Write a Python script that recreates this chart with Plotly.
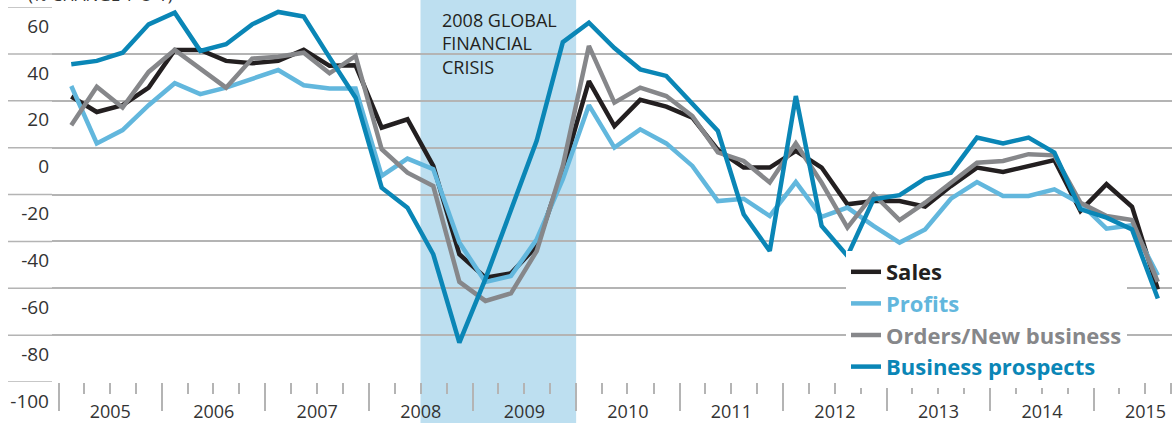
import plotly.graph_objects as go

quarters = [f"{y}-{m}" for y in range(2005, 2016) for m in ("02-15", "05-16", "08-15", "11-15")][:43]

sales = [21.8, 15.2, 18.1, 25.6, 41.7, 41.7, 37.0, 36.0, 37.0, 41.7, 34.9, 35.1,
         8.5, 12.1, -7.8, -45.5, -55.5, -53.6, -42.0, -10.0, 28.4, 9.2, 20.4, 17.5,
         12.8, -1.0, -8.5, -8.5, -1.4, -8.5, -24.2, -22.8, -22.8, -25.2, -16.4, -8.5,
         -10.4, -7.8, -5.3, -27.0, -15.6, -25.2, -60.5]
profits = [26.3, 1.8, 7.5, 18.1, 27.5, 22.8, 25.6, 29.2, 33.1, 26.6, 25.2, 25.2,
           -12.1, -4.7, -9.2, -40.5, -57.3, -54.8, -39.1, -13.5, 18.1, 0.0, 7.8, 1.8,
           -7.8, -22.8, -21.8, -29.2, -14.7, -29.5, -25.6, -33.4, -40.5, -34.9, -21.8, -14.7,
           -20.6, -20.6, -17.8, -23.8, -34.6, -33.1, -54.5]
orders = [9.5, 26.0, 17.1, 32.3, 41.7, 33.4, 25.6, 38.0, 38.8, 40.5, 31.7, 39.1,
          -0.7, -10.7, -16.4, -57.3, -65.4, -62.2, -44.1, -7.8, 43.4, 19.2, 25.6, 22.0,
          13.5, -2.0, -5.7, -14.9, 1.8, -15.0, -34.1, -19.9, -30.9, -23.5, -14.7, -6.4,
          -5.7, -2.8, -3.3, -23.5, -29.2, -30.9, -57.3]
prospects = [35.6, 37.0, 40.5, 52.6, 57.6, 41.3, 44.1, 52.6, 57.9, 55.9, 38.5, 21.3,
             -17.1, -25.6, -45.5, -83.2, -56.0, -27.0, 3.0, 45.0, 53.3, 42.5, 33.4, 30.6,
             18.5, 7.1, -28.4, -44.1, 22.0, -33.4, -46.2, -22.0, -20.3, -13.2, -10.7, 4.3,
             1.8, 4.3, -2.1, -26.3, -29.9, -34.9, -64.4]

series_names = ["Sales", "Profits", "Orders/New business", "Business prospects"]
series_colors = ["#231f20", "#62b7dd", "#86878a", "#0a86b6"]
series_values = [sales, profits, orders, prospects]

y_ticks = [60, 40, 20, 0, -20, -40, -60, -80, -100]
crisis_start, crisis_end = "2008-07-01", "2010-01-01"
crisis_label = "2008 GLOBAL<br>FINANCIAL<br>CRISIS"
unit_label = "(% CHANGE Y-O-Y)"

FONT = "Open Sans"
GRID = "#b4b4b4"

fig = go.Figure()
for name, color, vals in zip(series_names, series_colors, series_values):
    fig.add_trace(go.Scatter(
        x=quarters, y=vals, mode="lines",
        line=dict(color=color, width=4.5),
        name=f"<b><span style='color:{color}'>{name}</span></b>",
        legendgroup=name,
    ))

fig.add_vrect(x0=crisis_start, x1=crisis_end, y0=-100, y1=60, yref="y",
              fillcolor="#bddff0", line_width=0, layer="below")

# extend grid lines into the label gutter on the left
for v in y_ticks:
    fig.add_shape(type="line", xref="paper", yref="y", x0=-44 / 1120, x1=0,
                  y0=v, y1=v, line=dict(color=GRID, width=1.5), layer="below")

fig.add_annotation(text=crisis_label, xref="paper", yref="paper",
                   x=(440 - 52) / 1120, y=(382 - 6) / 375, xanchor="left", yanchor="top",
                   align="left", showarrow=False,
                   font=dict(family=FONT, size=18, color="#231f20"))
fig.add_annotation(text=unit_label, xref="paper", yref="paper",
                   x=(26 - 52) / 1120, y=(382 - 8) / 375, xanchor="left", yanchor="bottom",
                   showarrow=False, font=dict(family=FONT, size=17, color="#333333"))

fig.update_layout(
    width=1174, height=423,
    margin=dict(l=52, r=2, t=7, b=41, autoexpand=False),
    paper_bgcolor="white", plot_bgcolor="white",
    font=dict(family=FONT, color="#333333"),
    showlegend=True,
    legend=dict(x=(846 - 52) / 1120, y=(382 - 251) / 375, xanchor="left", yanchor="top",
                bgcolor="white", borderwidth=0, traceorder="grouped", tracegroupgap=0,
                font=dict(family=FONT, size=22), itemwidth=30),
    xaxis=dict(
        type="date", range=["2004-12-09", "2015-10-04"], automargin=False,
        dtick="M12", tick0="2000-01-01", tickformat="%Y", ticklabelmode="period",
        ticks="outside", ticklen=28, tickwidth=1.5, tickcolor=GRID,
        ticklabelstandoff=-15,
        tickfont=dict(family=FONT, size=18, color="#333333"),
        showgrid=False, zeroline=False, showline=False,
        minor=dict(dtick="M3", tick0="2000-01-01", ticks="outside", ticklen=11,
                   tickwidth=1.5, tickcolor=GRID, showgrid=False),
    ),
    yaxis=dict(
        range=[-100, 60], tickvals=y_ticks, ticktext=[str(v) for v in y_ticks],
        automargin=False,
        showgrid=True, gridcolor=GRID, gridwidth=1.5, zeroline=False, showline=False,
        ticks="", ticklabelshift=19, ticklabelstandoff=2,
        tickfont=dict(family=FONT, size=19, color="#333333"),
    ),
)

fig.write_html("out.html", config={"displayModeBar": False},
               post_script="document.body.style.margin='0';")
